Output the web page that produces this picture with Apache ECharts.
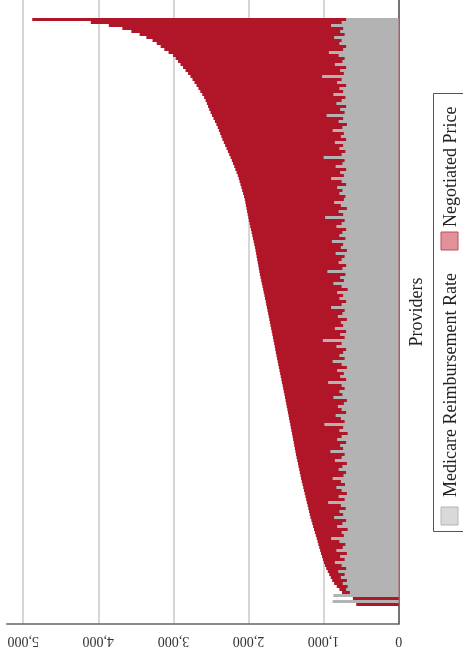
<!DOCTYPE html>
<html>
<head>
<meta charset="utf-8">
<script src="https://cdn.jsdelivr.net/npm/echarts@6/dist/echarts.min.js"></script>
<style>
  html, body { margin: 0; padding: 0; background: #fff; }
  #chart { width: 463px; height: 660px; }
</style>
</head>
<body>
<div id="chart"></div>
<script>
// Negotiated price per provider, sorted ascending (first provider at the bottom)
const negotiatedPrice = [
  565, 590, 610, 690, 755, 790, 825, 860, 885, 905,
  925, 945, 965, 982, 997, 1010, 1022, 1035, 1046, 1058,
  1070, 1080, 1092, 1104, 1116, 1128, 1140, 1151, 1163, 1175,
  1185, 1194, 1204, 1213, 1223, 1233, 1242, 1252, 1262, 1271,
  1281, 1291, 1300, 1308, 1317, 1325, 1334, 1341, 1351, 1360,
  1368, 1376, 1383, 1391, 1398, 1406, 1413, 1421, 1429, 1437,
  1444, 1452, 1460, 1467, 1475, 1483, 1491, 1498, 1506, 1514,
  1522, 1530, 1538, 1546, 1555, 1563, 1571, 1579, 1587, 1596,
  1604, 1612, 1620, 1628, 1636, 1644, 1650, 1659, 1667, 1675,
  1683, 1691, 1699, 1707, 1715, 1723, 1731, 1739, 1747, 1755,
  1764, 1771, 1780, 1788, 1797, 1805, 1814, 1823, 1831, 1840,
  1849, 1856, 1863, 1870, 1877, 1885, 1892, 1899, 1906, 1914,
  1923, 1932, 1941, 1950, 1959, 1968, 1978, 1986, 1995, 2003,
  2011, 2019, 2027, 2035, 2042, 2050, 2060, 2072, 2084, 2095,
  2107, 2119, 2130, 2143, 2159, 2175, 2190, 2206, 2222, 2239,
  2257, 2275, 2293, 2311, 2329, 2347, 2362, 2378, 2394, 2410,
  2428, 2447, 2466, 2486, 2505, 2523, 2539, 2555, 2572, 2591,
  2616, 2642, 2667, 2692, 2719, 2746, 2773, 2805, 2838, 2872,
  2905, 2938, 2971, 3005, 3065, 3121, 3170, 3222, 3278, 3360,
  3450, 3560, 3680, 3860, 4100, 4880
];

// Medicare reimbursement rate for the same providers (null = no rate reported)
const medicareRate = [
  null, 880, null, 870, 650, 700, 680, 745, 690, 770,
  720, 805, 700, 760, 850, 720, 780, 690, 830, 745,
  710, 790, 900, 730, 760, 680, 820, 750, 700, 860,
  740, 790, 705, 770, 940, 720, 800, 690, 760, 830,
  715, 770, 880, 735, 700, 800, 750, 690, 850, 760,
  720, 910, 740, 780, 700, 820, 760, 680, 790, 740,
  990, 720, 770, 840, 700, 760, 810, 730, 690, 870,
  750, 790, 720, 760, 940, 700, 780, 730, 820, 690,
  760, 880, 720, 790, 740, 700, 830, 760, 1010, 720,
  780, 700, 850, 740, 770, 690, 810, 750, 720, 900,
  760, 700, 790, 740, 820, 680, 760, 870, 730, 780,
  710, 950, 750, 700, 800, 760, 720, 840, 690, 770,
  740, 890, 710, 790, 750, 700, 830, 760, 720, 980,
  740, 800, 690, 770, 860, 730, 710, 790, 750, 820,
  700, 760, 900, 730, 780, 700, 840, 750, 720, 1000,
  760, 710, 790, 740, 850, 700, 770, 730, 880, 750,
  690, 800, 740, 960, 720, 780, 700, 830, 760, 710,
  870, 740, 790, 700, 820, 760, 1020, 730, 780, 700,
  850, 750, 720, 800, 930, 740, 700, 790, 760, 860,
  720, 780, 740, 900, 760, 700
];

// Value axis tick values
const valueTicks = [0, 1000, 2000, 3000, 4000, 5000];

const seriesNames = ['Medicare Reimbursement Rate', 'Negotiated Price'];
const axisTitle = 'Providers';

const providers = negotiatedPrice.map((_, i) => 'Provider ' + (i + 1));

const RED = '#b01628';
const GREY = '#b3b3b3';
const FONT = '"Liberation Serif", "Times New Roman", serif';

const chart = echarts.init(document.getElementById('chart'), null, { renderer: 'canvas' });

const fmt = v => String(v).replace(/\B(?=(\d{3})+(?!\d))/g, ',');

// 624px of category axis over 208 bands -> every bar is exactly 3px tall and
// lands on whole pixels, so neighbouring bars join without seams.
chart.setOption({
  animation: false,
  backgroundColor: '#ffffff',
  grid: { left: 6.7, right: 64.3, top: 0, bottom: 36, containLabel: false },
  xAxis: {
    type: 'value',
    inverse: true,
    min: valueTicks[0],
    max: 5220,
    interval: valueTicks[1] - valueTicks[0],
    axisLine: { show: true, onZero: false, lineStyle: { color: '#666', width: 1.5 } },
    axisTick: { show: false },
    splitLine: { show: true, showMaxLine: false, lineStyle: { color: '#c8c8c8', width: 1.5 } },
    axisLabel: {
      rotate: 180,
      margin: 10,
      showMaxLabel: false,
      fontFamily: FONT,
      fontSize: 14,
      color: '#333',
      formatter: v => (valueTicks.indexOf(v) >= 0 ? fmt(v) : '')
    }
  },
  yAxis: {
    type: 'category',
    position: 'right',
    data: providers,
    min: -6,
    max: providers.length + 5,
    boundaryGap: true,
    axisLine: { show: true, onZero: false, lineStyle: { color: '#555', width: 1.5 } },
    axisTick: { show: false },
    axisLabel: { show: false },
    splitLine: { show: false },
    name: axisTitle,
    nameLocation: 'middle',
    nameRotate: 90,
    nameGap: 10,
    nameTextStyle: { fontFamily: FONT, fontSize: 18, color: '#222' }
  },
  series: [
    {
      name: seriesNames[1],
      type: 'bar',
      data: negotiatedPrice,
      itemStyle: { color: RED },
      barGap: '-100%',
      barCategoryGap: '0%',
      z: 2
    },
    {
      name: seriesNames[0],
      type: 'bar',
      data: medicareRate,
      itemStyle: { color: GREY },
      barGap: '-100%',
      barCategoryGap: '0%',
      z: 3
    }
  ],
  graphic: [
    {
      type: 'rect',
      shape: { x: 433.5, y: 93.5, width: 60, height: 438 },
      style: { fill: 'none', stroke: '#555', lineWidth: 1 },
      silent: true
    },
    {
      type: 'rect',
      shape: { x: 441, y: 507, width: 17, height: 18 },
      style: { fill: '#d9d9d9', stroke: '#b5b5b5', lineWidth: 1 },
      silent: true
    },
    {
      type: 'text',
      x: 451, y: 497,
      rotation: Math.PI / 2,
      style: { text: seriesNames[0], font: '18px ' + FONT, fill: '#222', textAlign: 'left', textVerticalAlign: 'middle' },
      silent: true
    },
    {
      type: 'rect',
      shape: { x: 441, y: 232, width: 17, height: 18 },
      style: { fill: '#e0929b', stroke: '#c24a5b', lineWidth: 1 },
      silent: true
    },
    {
      type: 'text',
      x: 451, y: 227,
      rotation: Math.PI / 2,
      style: { text: seriesNames[1], font: '18px ' + FONT, fill: '#222', textAlign: 'left', textVerticalAlign: 'middle' },
      silent: true
    }
  ]
});
</script>
</body>
</html>
